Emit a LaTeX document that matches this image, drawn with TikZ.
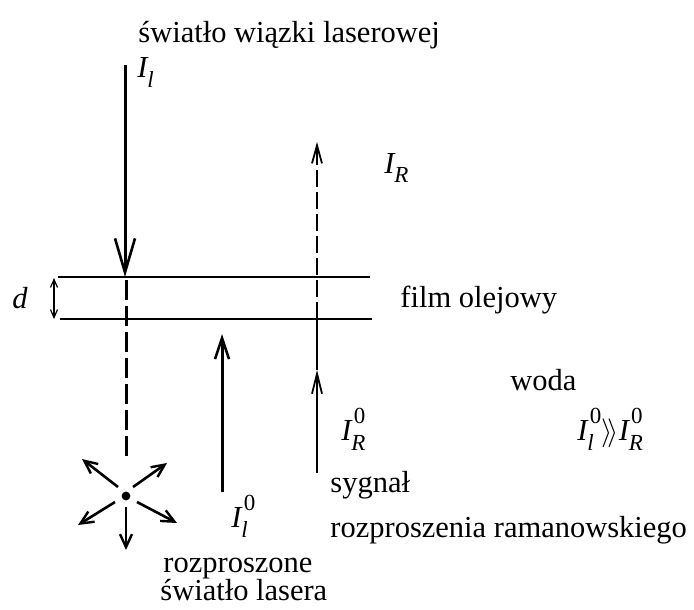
\documentclass[tikz,border=0pt]{standalone}
\usepackage{fontspec}
\setmainfont{Liberation Serif}
\usetikzlibrary{arrows.meta,calc}
\newcommand{\Ssz}{\fontsize{11.5}{12}\selectfont}
\newcommand{\Iv}[2]{\textit{I}\kern0.5pt\ooalign{\raisebox{8.5pt}{\Ssz #2}\cr\kern-1.2pt\raisebox{-5pt}{\Ssz\itshape #1}\cr}}
\tikzset{
  thickray/.style={line width=1.5pt,-{Straight Barb[length=10.5pt,width=7pt,line width=1.3pt]}},
  thinray/.style={line width=0.9pt},
  txt/.style={inner sep=0pt,anchor=base west,font=\fontsize{15.25}{18}\selectfont}
}
\begin{document}
\begin{tikzpicture}[x=0.5pt,y=-0.5pt]
\useasboundingbox (0,0) rectangle (694,609);

% film
\draw[line width=1pt] (58,277) -- (370,277);
\draw[line width=1pt] (60,319) -- (372,319);
\draw[line width=0.6pt,{Straight Barb[length=4pt,width=3.5pt]}-{Straight Barb[length=4pt,width=3.5pt]}] (54,278) -- (54,319);
\node[txt] (d) at (12,308) {\itshape d};
\node[txt] (film) at (400,307) {film olejowy};

% incident beam
\coordinate (src) at (125,65);
\coordinate (hit) at (125,277);
\coordinate (ctr) at (126,496);
\draw[line width=1.5pt,-{Straight Barb[length=17pt,width=10pt,line width=1.3pt]}] (src) -- (hit);
\draw[line width=1.5pt,dash pattern=on 10pt off 3pt] (126,280) -- (126,462);
\fill (ctr) circle (2.2pt);
\node[txt] (top) at (138,43) {światło wiązki laserowej};
\node[txt] (Il) at (137,78) {\Iv{l}{}};

% scattered star
\foreach \sx/\sy/\ex/\ey in {118/487/82/459, 133/487/167/463, 115/502/78/525, 137/502/177/523, 126/507/126/550}
  \draw[line width=1.3pt,-{Straight Barb[length=6.5pt,width=6pt,line width=1.2pt]}] (\sx,\sy) -- (\ex,\ey);

% back scattered laser light
\coordinate (up0) at (222,492);
\coordinate (up1) at (222,334);
\draw[thickray] (up0) -- (up1);
\node[txt] (Il0) at (231,527) {\Iv{l}{0}};
\node[txt] (roz1) at (163,572) {rozproszone};
\node[txt] (roz2) at (160,600) {światło lasera};

% raman signal
\coordinate (r0) at (317,473);
\coordinate (rm) at (317,370);
\coordinate (r1) at (317,319);
\coordinate (r2) at (317,142);
\draw[thinray,-{Straight Barb[length=10pt,width=5pt]}] (r0) -- (rm);
\draw[thinray] (rm) -- (r1);
\draw[thinray,dash pattern=on 8.5pt off 2.5pt,-{Straight Barb[length=9pt,width=5pt]}] (r1) -- (r2);
\node[txt] (IR) at (384,173) {\Iv{R}{}};
\node[txt] (IR0) at (341,440) {\Iv{R}{0}};
\node[txt] (syg1) at (330,492) {sygnał};
\node[txt] (syg2) at (330,537) {rozproszenia ramanowskiego};

% water
\node[txt] (woda) at (510,390) {woda};
\node[txt] (cmp) at (577,440) {\Iv{l}{0}$\rangle\!\rangle$\Iv{R}{0}};

\end{tikzpicture}
\end{document}
